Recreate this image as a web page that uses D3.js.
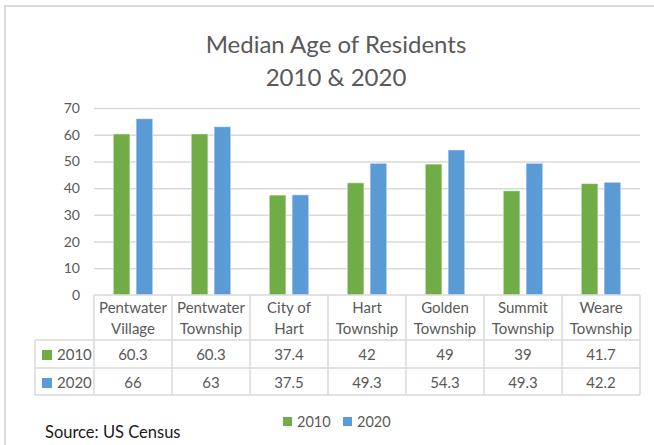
<!DOCTYPE html>
<html>
<head>
<meta charset="utf-8">
<script src="https://cdn.jsdelivr.net/npm/d3@7"></script>
<style>
  html, body { margin: 0; padding: 0; background: #fff; }
  svg text { font-family: Lato, "Open Sans", sans-serif; }
</style>
</head>
<body>
<div id="chart"></div>
<script>
const places = [
    ['Pentwater', 'Village'],
    ['Pentwater', 'Township'],
    ['City of', 'Hart'],
    ['Hart', 'Township'],
    ['Golden', 'Township'],
    ['Summit', 'Township'],
    ['Weare', 'Township']
];
const years = ['2010', '2020'];
const age2010 = [60.3, 60.3, 37.4, 42, 49, 39, 41.7];
const age2020 = [66, 63, 37.5, 49.3, 54.3, 49.3, 42.2];
const yTicks = [0, 10, 20, 30, 40, 50, 60, 70];
const yearColors = ['#70ad47', '#5b9bd5'];

const W = 654, H = 445;
const plot = { left: 94, right: 640, top: 108, bottom: 295 };
const rowH = [45, 28, 27]; // header, 2010, 2020
const gridColor = '#d9d9d9';
const textColor = '#595959';

const svg = d3.select('#chart').append('svg')
    .attr('width', W)
    .attr('height', H);

// outer frame (top + left only visible)
svg.append('line').attr('x1', 4).attr('x2', W).attr('y1', 6).attr('y2', 6)
    .attr('stroke', '#d9d9d9').attr('stroke-width', 2);
svg.append('line').attr('x1', 5).attr('x2', 5).attr('y1', 6).attr('y2', H)
    .attr('stroke', '#d9d9d9').attr('stroke-width', 2);

// title
svg.append('text').attr('x', 336).attr('y', 53).attr('text-anchor', 'middle')
    .attr('font-size', 24).attr('fill', textColor).text('Median Age of Residents');
svg.append('text').attr('x', 336).attr('y', 86).attr('text-anchor', 'middle')
    .attr('font-size', 24).attr('fill', textColor).text('2010 & 2020');

const keys = places.map(p => p.join(' '));
const x0 = d3.scaleBand().domain(keys).range([plot.left, plot.right]);
const bw = x0.bandwidth();
const groupW = 39.5;
const x1 = d3.scaleBand().domain(years)
    .range([(bw - groupW) / 2, (bw + groupW) / 2])
    .paddingInner(0.27);
const y = d3.scaleLinear().domain([0, 70]).range([plot.bottom, plot.top]);

// gridlines
svg.append('g').selectAll('line').data(yTicks.filter(t => t > 0)).enter()
    .append('line')
    .attr('x1', plot.left).attr('x2', plot.right)
    .attr('y1', d => y(d) + 0.5).attr('y2', d => y(d) + 0.5)
    .attr('stroke', gridColor).attr('stroke-width', 1.5);

// y tick labels
svg.append('g').selectAll('text').data(yTicks).enter()
    .append('text')
    .attr('x', 80).attr('y', d => y(d) + 5)
    .attr('text-anchor', 'end')
    .attr('font-size', 14).attr('fill', textColor)
    .text(d => d);

// bars
const series = [age2010, age2020];
const groups = svg.append('g').selectAll('g').data(keys).enter()
    .append('g')
    .attr('transform', d => 'translate(' + x0(d) + ',0)');
groups.selectAll('rect')
    .data((d, i) => years.map((yr, j) => ({ year: yr, value: series[j][i], color: yearColors[j] })))
    .enter()
    .append('rect')
    .attr('x', d => x1(d.year))
    .attr('y', d => y(d.value))
    .attr('width', x1.bandwidth())
    .attr('height', d => y(0) - y(d.value))
    .attr('fill', d => d.color)
    .attr('stroke', 'rgba(255,255,255,0.5)')
    .attr('stroke-width', 1);

// data table
const tableTop = plot.bottom;
const r1 = tableTop + rowH[0];
const r2 = r1 + rowH[1];
const r3 = r2 + rowH[2];
const tableLeft = 35;
const tg = svg.append('g').attr('stroke', gridColor).attr('stroke-width', 1.5);
[[plot.left, tableTop, plot.right, tableTop],
 [tableLeft, r1, plot.right, r1],
 [tableLeft, r2, plot.right, r2],
 [tableLeft, r3, plot.right, r3],
 [tableLeft, r1, tableLeft, r3]].forEach(l => {
    tg.append('line').attr('x1', l[0]).attr('y1', l[1]).attr('x2', l[2]).attr('y2', l[3]);
});
tg.selectAll('line.v').data(keys.map(k => x0(k)).concat([plot.right])).enter()
    .append('line')
    .attr('x1', d => d).attr('x2', d => d)
    .attr('y1', tableTop).attr('y2', r3);

// header labels
const header = svg.append('g').selectAll('text').data(places).enter()
    .append('text')
    .attr('text-anchor', 'middle')
    .attr('font-size', 15).attr('fill', textColor);
header.append('tspan')
    .attr('x', (d, i) => x0(keys[i]) + bw / 2).attr('y', tableTop + 18)
    .text(d => d[0]);
header.append('tspan')
    .attr('x', (d, i) => x0(keys[i]) + bw / 2).attr('y', tableTop + 39)
    .text(d => d[1]);

// row labels + values
const rowY = [r1 + 20, r2 + 20];
years.forEach((yr, j) => {
    svg.append('rect').attr('x', 42).attr('y', rowY[j] - 10)
        .attr('width', 10).attr('height', 10).attr('fill', yearColors[j]);
    svg.append('text').attr('x', 57).attr('y', rowY[j])
        .attr('font-size', 15).attr('fill', textColor).text(yr);
    svg.append('g').selectAll('text').data(series[j]).enter()
        .append('text')
        .attr('x', (d, i) => x0(keys[i]) + bw / 2)
        .attr('y', rowY[j])
        .attr('text-anchor', 'middle')
        .attr('font-size', 15).attr('fill', textColor)
        .text(d => d);
});

// legend
const legendX = [283, 343];
years.forEach((yr, j) => {
    svg.append('rect').attr('x', legendX[j]).attr('y', 417)
        .attr('width', 9).attr('height', 9).attr('fill', yearColors[j]);
    svg.append('text').attr('x', legendX[j] + 14).attr('y', 427)
        .attr('font-size', 14.5).attr('fill', textColor).text(yr);
});

// source note
svg.append('text').attr('x', 45).attr('y', 438)
    .attr('font-size', 16.5).attr('fill', '#1a1a1a').text('Source: US Census');
</script>
</body>
</html>
